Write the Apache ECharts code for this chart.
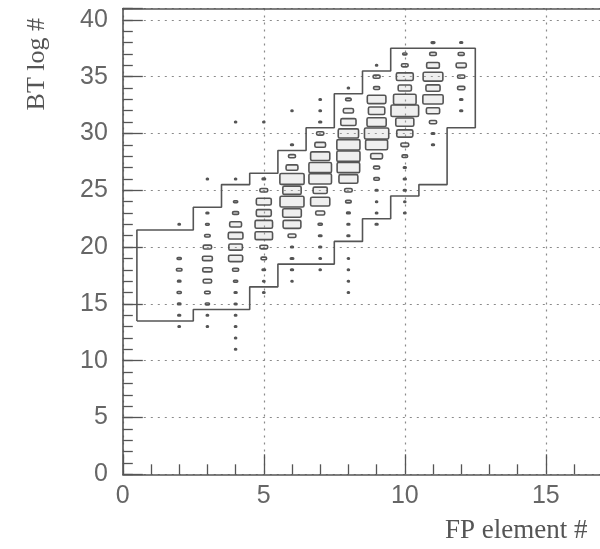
<!DOCTYPE html>
<html><head><meta charset="utf-8">
<script src="https://cdn.jsdelivr.net/npm/echarts@6/dist/echarts.min.js"></script>
<style>html,body{margin:0;padding:0;background:#fff}#c{width:600px;height:549px}</style>
</head><body><div id="c"></div>
<script>
// Axis tick labels
const xTickLabels = [0, 5, 10, 15, 20];
const yTickLabels = [0, 5, 10, 15, 20, 25, 30, 35, 40];

// Step outline: one entry per FP element bin (centres 1..12, edges at +-0.5)
const outlineBins = [1, 2, 3, 4, 5, 6, 7, 8, 9, 10, 11, 12];
const outlineLower = [13.5, 13.5, 14.5, 14.5, 16.5, 18.5, 18.5, 20.5, 22.5, 24.5, 25.5, 30.5];
const outlineUpper = [21.5, 21.5, 23.5, 25.5, 26.5, 28.5, 30.5, 33.5, 35.5, 37.5, 37.5, 37.5];

// Box sizes (relative to one cell) per FP element column: [BT log #, size]
const col2 = [[13,0.08],[14,0.1],[15,0.12],[16,0.15],[17,0.12],[18,0.2],[19,0.15],[22,0.08]];
const col3 = [[13,0.07],[14,0.08],[15,0.15],[16,0.2],[17,0.3],[18,0.33],[19,0.35],[20,0.3],[21,0.2],[22,0.13],[23,0.1],[26,0.06]];
const col4 = [[11,0.07],[12,0.06],[13,0.08],[14,0.08],[15,0.1],[16,0.1],[17,0.15],[18,0.22],[19,0.5],[20,0.48],[21,0.52],[22,0.42],[23,0.22],[24,0.15],[26,0.06],[31,0.06]];
const col5 = [[16,0.08],[17,0.08],[18,0.12],[19,0.2],[20,0.28],[21,0.62],[22,0.62],[23,0.53],[24,0.53],[25,0.28],[26,0.12],[31,0.06]];
const col6 = [[17,0.07],[18,0.1],[19,0.12],[20,0.1],[21,0.28],[22,0.63],[23,0.66],[24,0.85],[25,0.65],[26,0.86],[27,0.42],[28,0.25],[29,0.1],[32,0.06]];
const col7 = [[18,0.07],[19,0.08],[20,0.1],[21,0.12],[22,0.15],[23,0.32],[24,0.68],[25,0.5],[26,0.8],[27,0.8],[28,0.68],[29,0.38],[30,0.26],[31,0.1],[32,0.08],[33,0.08]];
const col8 = [[16,0.06],[17,0.06],[18,0.06],[19,0.07],[21,0.1],[22,0.1],[23,0.13],[24,0.2],[25,0.27],[26,0.67],[27,0.8],[28,0.82],[29,0.82],[30,0.72],[31,0.54],[32,0.36],[33,0.2],[34,0.07]];
const col9 = [[22,0.1],[23,0.08],[24,0.07],[25,0.1],[26,0.2],[27,0.22],[28,0.42],[29,0.78],[30,0.86],[31,0.68],[32,0.58],[33,0.66],[34,0.22],[35,0.25],[36,0.07]];
const col10 = [[23,0.08],[24,0.07],[25,0.1],[26,0.1],[27,0.1],[28,0.2],[29,0.28],[30,0.57],[31,0.64],[32,0.98],[33,0.8],[34,0.47],[35,0.6],[36,0.24],[37,0.15]];
const col11 = [[29,0.1],[30,0.12],[31,0.26],[32,0.47],[33,0.72],[34,0.5],[35,0.7],[36,0.45],[37,0.24],[38,0.13]];
const col12 = [[32,0.1],[33,0.11],[34,0.26],[35,0.26],[36,0.36],[37,0.22],[38,0.1]];

const columns = {2: col2, 3: col3, 4: col4, 5: col5, 6: col6, 7: col7, 8: col8, 9: col9, 10: col10, 11: col11, 12: col12};
const boxData = [];
Object.keys(columns).forEach(k => {
  columns[k].forEach(p => boxData.push([Number(k), p[0], p[1]]));
});

// Build outline polygon from bin edges
const outline = [];
outlineBins.forEach((b, i) => {
  outline.push([b - 0.5, outlineLower[i]]);
  outline.push([b + 0.5, outlineLower[i]]);
});
for (let i = outlineBins.length - 1; i >= 0; i--) {
  outline.push([outlineBins[i] + 0.5, outlineUpper[i]]);
  outline.push([outlineBins[i] - 0.5, outlineUpper[i]]);
}
outline.push([outlineBins[0] - 0.5, outlineLower[0]]);

const AX = '#555';
const LBL = '#666';
const chart = echarts.init(document.getElementById('c'), null, {renderer: 'canvas'});
chart.setOption({
  animation: false,
  backgroundColor: '#fff',
  grid: {left: 122.8, top: 8.5, width: 564, height: 465.8, containLabel: false, outerBoundsMode: 'none'},
  xAxis: [{
    type: 'value', min: xTickLabels[0], max: xTickLabels[xTickLabels.length - 1], interval: 5,
    position: 'bottom',
    axisLine: {show: true, onZero: false, lineStyle: {color: AX, width: 1.6}},
    axisTick: {show: true, inside: true, length: 20, lineStyle: {color: AX, width: 1.3}},
    minorTick: {show: true, splitNumber: 5, length: 10, lineStyle: {color: AX, width: 1.3}},
    axisLabel: {color: LBL, fontSize: 25, fontFamily: 'Liberation Sans, Arial, sans-serif', margin: 9,
      formatter: v => xTickLabels.indexOf(v) >= 0 ? String(v) : ''},
    splitLine: {show: true, lineStyle: {color: '#8a8a8a', width: 1.2, type: [2, 5]}}
  }, {
    type: 'value', min: xTickLabels[0], max: xTickLabels[xTickLabels.length - 1], position: 'top',
    axisLine: {show: true, onZero: false, lineStyle: {color: AX, width: 1.6}},
    axisTick: {show: false}, axisLabel: {show: false}, splitLine: {show: false}
  }],
  yAxis: [{
    type: 'value', min: 0, max: 41, interval: 5, position: 'left', offset: 0,
    axisLine: {show: true, onZero: false, lineStyle: {color: AX, width: 1.6}},
    axisTick: {show: true, inside: true, length: 20, lineStyle: {color: AX, width: 1.3}},
    axisLabel: {color: LBL, fontSize: 25, fontFamily: 'Liberation Sans, Arial, sans-serif', margin: 15,
      formatter: v => yTickLabels.indexOf(v) >= 0 ? String(v) : ''},
    splitLine: {show: true, lineStyle: {color: '#8a8a8a', width: 1.2, type: [2, 5]}}
  }, {
    type: 'value', min: 0, max: 41, interval: 1, position: 'left', offset: 0,
    axisLine: {show: false},
    axisTick: {show: true, inside: true, length: 10, lineStyle: {color: AX, width: 1.3}},
    axisLabel: {show: false}, splitLine: {show: false}
  }],
  graphic: [
    {type: 'text', left: 24, top: 18, rotation: Math.PI / 2,
      style: {text: 'BT log #', fill: '#555', font: '26px "Liberation Serif", "Times New Roman", serif'}},
    {type: 'text', left: 445, top: 517,
      style: {text: 'FP element #', fill: '#555', font: '27px "Liberation Serif", "Times New Roman", serif'}}
  ],
  series: [{
    type: 'line', xAxisIndex: 0, yAxisIndex: 0, data: outline, showSymbol: false, symbol: 'none',
    lineStyle: {color: '#555', width: 1.6}, z: 3, silent: true
  }, {
    type: 'custom', xAxisIndex: 0, yAxisIndex: 0, data: boxData, z: 4,
    renderItem: (params, api) => {
      const c = api.coord([api.value(0), api.value(1)]);
      const s = api.size([1, 1]);
      const v = api.value(2);
      const w = Math.max(s[0] * v, 2);
      const h = Math.max(s[1] * Math.min(1, v * 1.12), 1.4);
      return {type: 'rect', shape: {x: c[0] - w / 2, y: c[1] - h / 2, width: w, height: h, r: Math.min(h / 2, 1.5)},
        style: {fill: 'rgba(190,190,190,0.25)', stroke: '#555', lineWidth: 1.6}};
    }
  }]
});
</script></body></html>
